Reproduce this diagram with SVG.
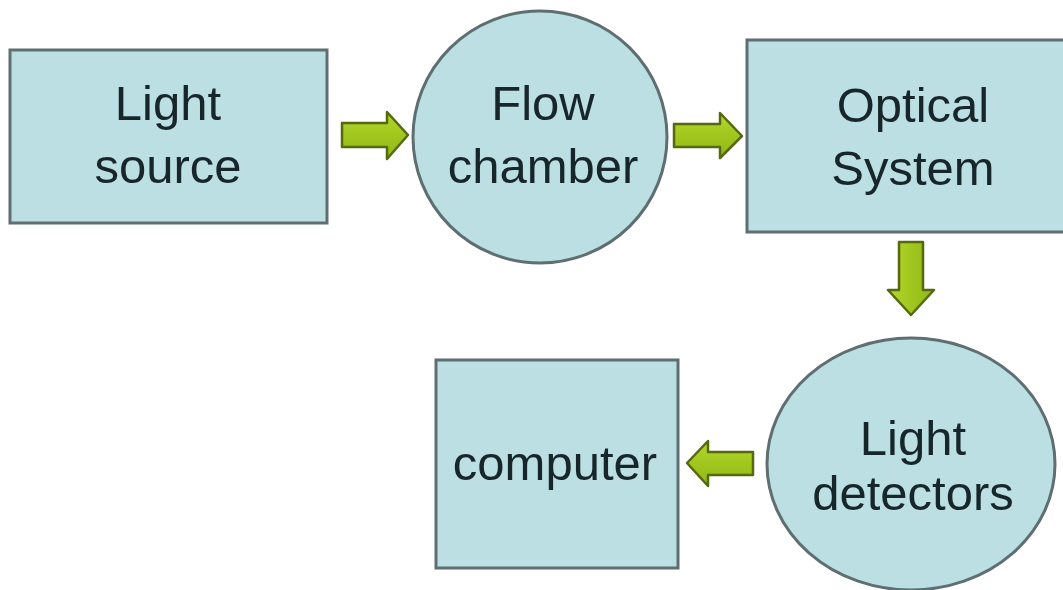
<svg xmlns="http://www.w3.org/2000/svg" width="1063" height="590" viewBox="0 0 1063 590">
  <defs>
    <linearGradient id="arrowFill" x1="0" y1="0" x2="0" y2="1">
      <stop offset="0" stop-color="#b3d62a"/>
      <stop offset="1" stop-color="#8fb814"/>
    </linearGradient>
    <linearGradient id="arrowFillV" x1="0" y1="0" x2="1" y2="0">
      <stop offset="0" stop-color="#b3d62a"/>
      <stop offset="1" stop-color="#8fb814"/>
    </linearGradient>
    <style>
      .box { fill: #bcdfe3; stroke: #5f6e70; stroke-width: 3; }
      .label { font-family: "Liberation Sans", Arial, sans-serif; font-size: 49px; fill: #17262a; text-anchor: middle; }
      .arrow { fill: url(#arrowFill); stroke: #56690f; stroke-width: 2.5; stroke-linejoin: round; }
      .arrowV { fill: url(#arrowFillV); stroke: #56690f; stroke-width: 2.5; stroke-linejoin: round; }
    </style>
  </defs>

  <rect width="1063" height="590" fill="#ffffff"/>

  <g id="light-source">
    <rect class="box" x="10" y="50" width="317" height="173"/>
    <text class="label" x="168" y="120">Light</text>
    <text class="label" x="168" y="183">source</text>
  </g>

  <g id="flow-chamber">
    <ellipse class="box" cx="540" cy="137" rx="127" ry="126"/>
    <text class="label" x="543" y="120">Flow</text>
    <text class="label" x="543" y="183">chamber</text>
  </g>

  <g id="optical-system">
    <rect class="box" x="747" y="40" width="330" height="192"/>
    <text class="label" x="913" y="122">Optical</text>
    <text class="label" x="913" y="185">System</text>
  </g>

  <g id="light-detectors">
    <ellipse class="box" cx="911" cy="464" rx="144" ry="126"/>
    <text class="label" x="913" y="455">Light</text>
    <text class="label" x="913" y="510">detectors</text>
  </g>

  <g id="computer">
    <rect class="box" x="436" y="360" width="242" height="208"/>
    <text class="label" x="555" y="480">computer</text>
  </g>

  <g id="connectors">
    <!-- light source -> flow chamber -->
    <path class="arrow" d="M342,123 H387 V112 L408,135 L387,159 V147 H342 Z"/>
    <!-- flow chamber -> optical system -->
    <path class="arrow" d="M674,124 H720 V113 L742,136 L720,158 V147 H674 Z"/>
    <!-- optical system -> light detectors -->
    <path class="arrowV" d="M899,242 H923 V290 H934 L911,315 L888,290 H899 Z"/>
    <!-- light detectors -> computer -->
    <path class="arrow" d="M753,452 H708 V441 L687,463 L708,486 V475 H753 Z"/>
  </g>
</svg>
